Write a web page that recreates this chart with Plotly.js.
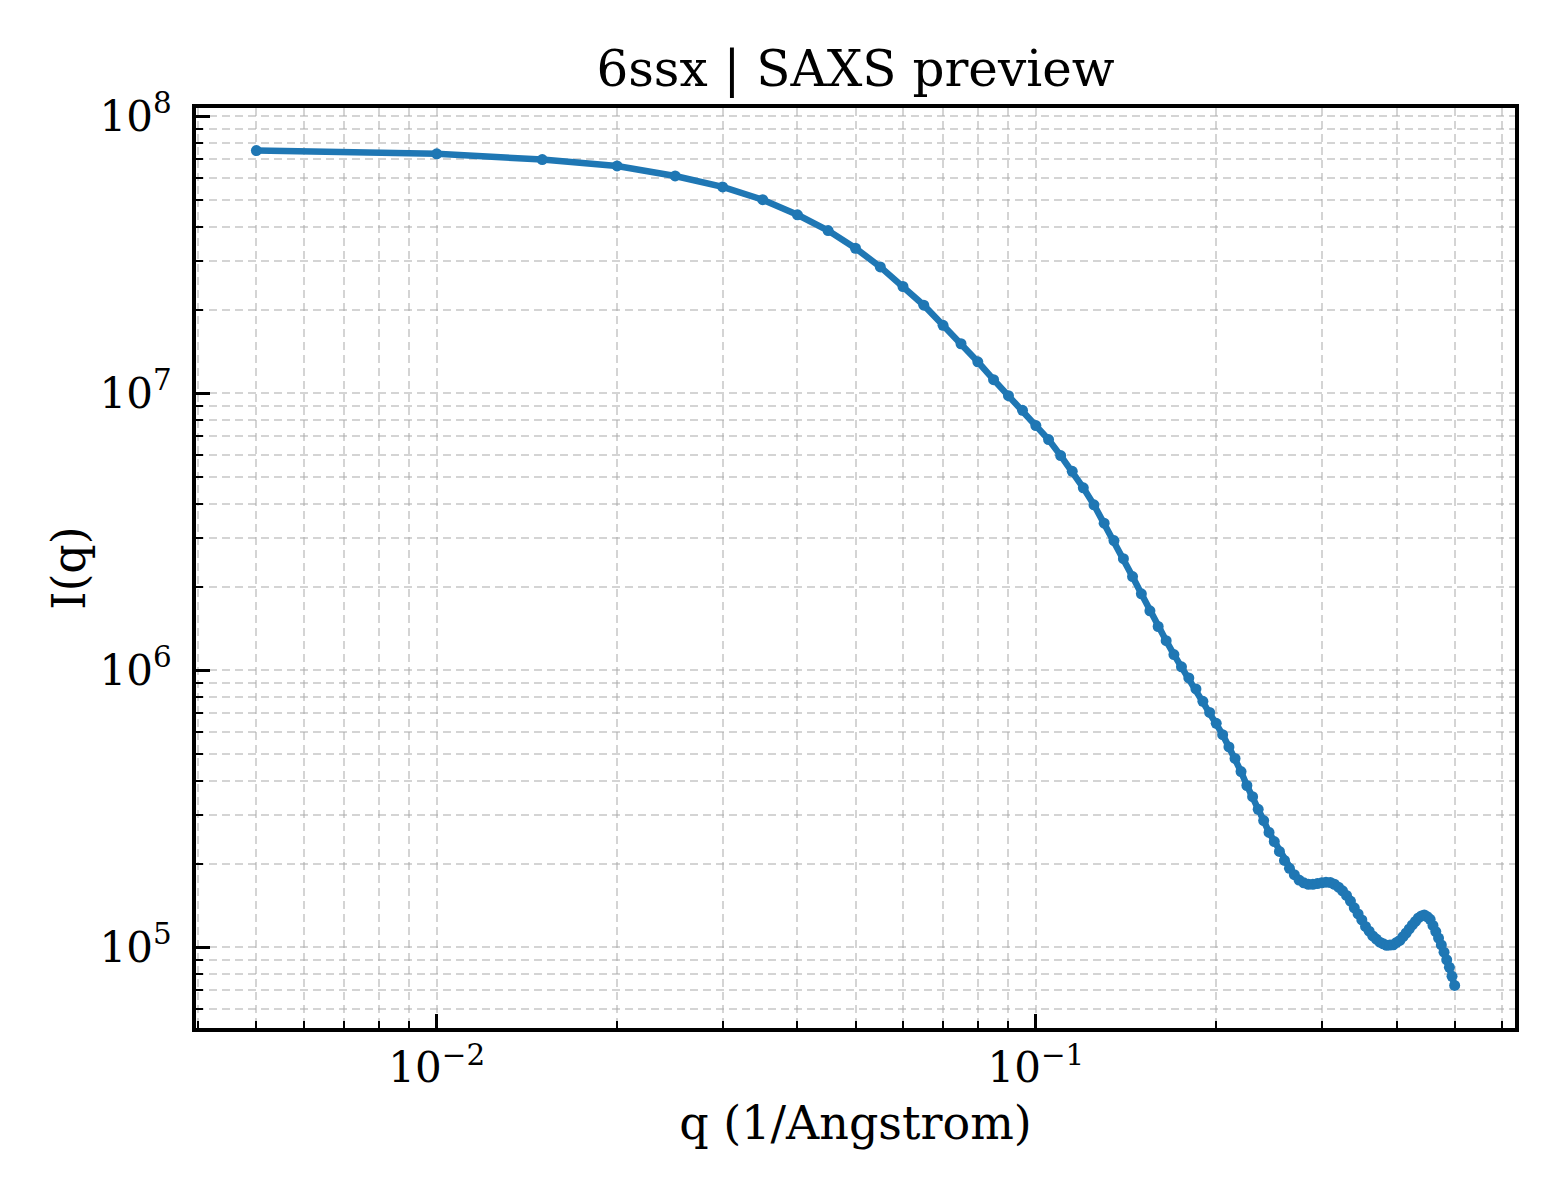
<!DOCTYPE html>
<html>
<head>
<meta charset="utf-8">
<script src="https://cdn.plot.ly/plotly-3.0.1.min.js"></script>
<style>
  body { margin: 0; background: #fff; }
  #graph { width: 1560px; height: 1200px; }
</style>
</head>
<body>
<div id="graph"></div>
<script>
// scattering vector q (1/Angstrom)
var qValues = [
    0.005, 0.010, 0.015, 0.020, 0.025, 0.030, 0.035, 0.040, 0.045, 0.050,
    0.055, 0.060, 0.065, 0.070, 0.075, 0.080, 0.085, 0.090, 0.095, 0.100,
    0.105, 0.110, 0.115, 0.120, 0.125, 0.130, 0.135, 0.140, 0.145, 0.150,
    0.155, 0.160, 0.165, 0.170, 0.175, 0.180, 0.185, 0.190, 0.195, 0.200,
    0.205, 0.210, 0.215, 0.220, 0.225, 0.230, 0.235, 0.240, 0.245, 0.250,
    0.255, 0.260, 0.265, 0.270, 0.275, 0.280, 0.285, 0.290, 0.295, 0.300,
    0.305, 0.310, 0.315, 0.320, 0.325, 0.330, 0.335, 0.340, 0.345, 0.350,
    0.355, 0.360, 0.365, 0.370, 0.375, 0.380, 0.385, 0.390, 0.395, 0.400,
    0.405, 0.410, 0.415, 0.420, 0.425, 0.430, 0.435, 0.440, 0.445, 0.450,
    0.455, 0.460, 0.465, 0.470, 0.475, 0.480, 0.485, 0.490, 0.495, 0.500
];

// intensity I(q)
var intensity = [
    7.52e7, 7.32e7, 6.98e7, 6.62e7, 6.09e7, 5.56e7, 5.00e7, 4.41e7, 3.87e7, 3.34e7,
    2.86e7, 2.43e7, 2.08e7, 1.76e7, 1.51e7, 1.30e7, 1.12e7, 9.81e6, 8.68e6, 7.65e6,
    6.81e6, 5.96e6, 5.23e6, 4.56e6, 3.96e6, 3.40e6, 2.94e6, 2.53e6, 2.18e6, 1.89e6,
    1.64e6, 1.44e6, 1.28e6, 1.14e6, 1.03e6, 9.39e5, 8.57e5, 7.73e5, 7.05e5, 6.44e5,
    5.86e5, 5.29e5, 4.81e5, 4.31e5, 3.84e5, 3.50e5, 3.15e5, 2.87e5, 2.60e5, 2.41e5,
    2.22e5, 2.06e5, 1.93e5, 1.83e5, 1.75e5, 1.71e5, 1.69e5, 1.69e5, 1.70e5, 1.71e5,
    1.72e5, 1.715e5, 1.69e5, 1.65e5, 1.60e5, 1.54e5, 1.47e5, 1.39e5, 1.32e5, 1.256e5,
    1.19e5, 1.144e5, 1.10e5, 1.072e5, 1.044e5, 1.03e5, 1.017e5, 1.02e5, 1.022e5, 1.042e5,
    1.06e5, 1.093e5, 1.127e5, 1.166e5, 1.205e5, 1.241e5, 1.277e5, 1.299e5, 1.31e5, 1.29e5,
    1.263e5, 1.20e5, 1.14e5, 1.081e5, 1.021e5, 9.61e4, 9.02e4, 8.47e4, 7.86e4, 7.29e4
];

var xTickVals = [0.01, 0.1];
var xTickText = ['10<sup>−2</sup>', '10<sup>−1</sup>'];
var yTickVals = [1e5, 1e6, 1e7, 1e8];
var yTickText = ['10<sup>5</sup>', '10<sup>6</sup>', '10<sup>7</sup>', '10<sup>8</sup>'];

// minor ticks 2..9 in every decade
function minorTicks(fromExp, toExp) {
    var out = [];
    for (var e = fromExp; e <= toExp; e++) {
        for (var m = 2; m <= 9; m++) {
            out.push(m * Math.pow(10, e));
        }
    }
    return out;
}

var gridColor = 'rgba(170,170,170,0.5)';
var gridDash = '8px,5px';

function makeAxis(tickvals, ticktext, minorvals, range, titleText, standoff, labelPad) {
    return {
        type: 'log',
        range: range,
        tickmode: 'array',
        tickvals: tickvals,
        ticktext: ticktext,
        ticks: 'inside',
        ticklen: 14,
        tickwidth: 3,
        tickcolor: '#000',
        ticklabelstandoff: labelPad,
        tickfont: {family: 'DejaVu Serif', size: 42, color: '#000'},
        showgrid: true,
        gridcolor: gridColor,
        griddash: gridDash,
        gridwidth: 2,
        showline: true,
        linecolor: '#000',
        linewidth: 4,
        mirror: true,
        zeroline: false,
        minor: {
            tickmode: 'array',
            tickvals: minorvals,
            ticks: 'inside',
            ticklen: 7,
            tickwidth: 2,
            tickcolor: '#000',
            showgrid: true,
            gridcolor: gridColor,
            griddash: gridDash,
            gridwidth: 2
        },
        title: {
            text: titleText,
            standoff: standoff,
            font: {family: 'DejaVu Serif', size: 46, color: '#000'}
        }
    };
}

var trace = {
    x: qValues,
    y: intensity,
    type: 'scatter',
    mode: 'lines+markers',
    line: {color: '#1f77b4', width: 6.5},
    marker: {color: '#1f77b4', size: 11},
    showlegend: false
};

var layout = {
    width: 1560,
    height: 1200,
    paper_bgcolor: '#fff',
    plot_bgcolor: '#fff',
    margin: {l: 196, r: 45, t: 108, b: 172},
    font: {family: 'DejaVu Serif', color: '#000'},
    title: {
        text: '6ssx | SAXS preview',
        font: {family: 'DejaVu Serif', size: 50, color: '#000'},
        x: 0.5,
        xref: 'paper',
        y: 1 - 68 / 1200,
        yref: 'container',
        yanchor: 'middle'
    },
    xaxis: makeAxis(xTickVals, xTickText, minorTicks(-3, -1), [-2.4018, -0.2003], 'q (1/Angstrom)', 16, 0),
    yaxis: makeAxis(yTickVals, yTickText, minorTicks(4, 7), [4.709, 8.030], 'I(q)', 0, 12)
};

Plotly.newPlot('graph', [trace], layout, {displayModeBar: false, staticPlot: true});
</script>
</body>
</html>
